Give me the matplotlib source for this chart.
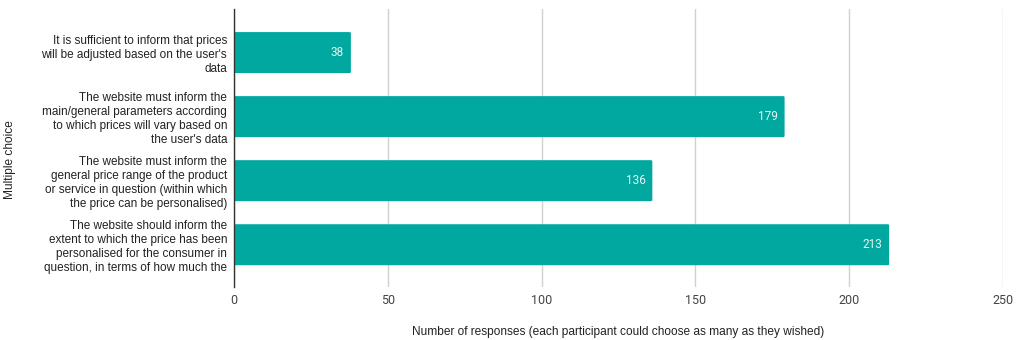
import matplotlib
matplotlib.use("Agg")
import matplotlib.pyplot as plt
from matplotlib.patches import FancyBboxPatch

categories = [
    "It is sufficient to inform that prices\nwill be adjusted based on the user's\ndata",
    "The website must inform the\nmain/general parameters according\nto which prices will vary based on\nthe user's data",
    "The website must inform the\ngeneral price range of the product\nor service in question (within which\nthe price can be personalised)",
    "The website should inform the\nextent to which the price has been\npersonalised for the consumer in\nquestion, in terms of how much the",
]
responses = [38, 179, 136, 213]
x_ticks = [0, 50, 100, 150, 200, 250]

bar_color = "#00A8A0"
label_font = "Liberation Sans"
tick_font = "Roboto"

fig = plt.figure(figsize=(10.17, 3.40), dpi=100)
ax = fig.add_axes([0.2301, 0.1559, 0.9862 - 0.2301, 0.9735 - 0.1559])

bar_h = 0.64
for i, v in enumerate(responses):
    patch = FancyBboxPatch((0, i - bar_h / 2), v, bar_h,
                           boxstyle="round,pad=0,rounding_size=0.6",
                           mutation_aspect=1 / 40,
                           facecolor=bar_color, edgecolor="none", zorder=3)
    ax.add_patch(patch)
    ax.text(v - 2.2, i, str(v), ha="right", va="center", color="#E6F6F5",
            fontsize=8.5, family=tick_font, zorder=4)

ax.set_xlim(0, 250)
ax.set_ylim(3.66, -0.68)
ax.set_xticks(x_ticks)
ax.set_xticklabels([str(t) for t in x_ticks], family=tick_font, fontsize=9, color="#444444")
ax.set_yticks(range(len(categories)))
ax.set_yticklabels(categories, family=label_font, fontsize=8.5, color="#222222",
                   linespacing=1.22)
ax.tick_params(axis="both", length=0)
ax.tick_params(axis="x", pad=5)
ax.tick_params(axis="y", pad=5)

ax.grid(axis="x", color="#D0D0D0", linewidth=1, zorder=0)
ax.grid(axis="y", visible=False)
for s in ["top", "right", "bottom"]:
    ax.spines[s].set_visible(False)
ax.spines["left"].set_color("#333333")
ax.spines["left"].set_linewidth(1)
ax.spines["left"].set_zorder(5)

ax.set_xlabel("Number of responses (each participant could choose as many as they wished)",
              family=label_font, fontsize=8.6, color="#222222", labelpad=14)
fig.text(0.0098, 0.53, "Multiple choice", rotation=90, ha="center", va="center",
         family=label_font, fontsize=8.6, color="#222222")

fig.savefig("out.png", dpi=100)
